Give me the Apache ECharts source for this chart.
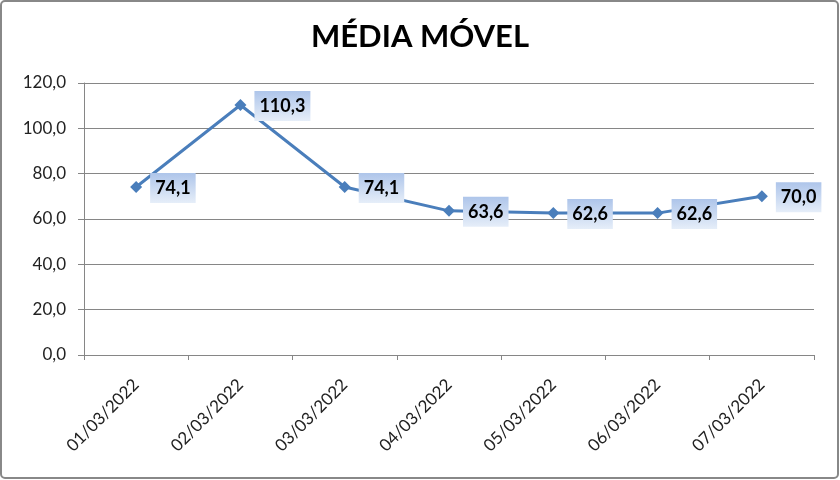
<!DOCTYPE html>
<html><head><meta charset="utf-8">
<script src="https://cdn.jsdelivr.net/npm/echarts@6/dist/echarts.min.js"></script>
<style>html,body{margin:0;padding:0;background:#fff}#c{width:840px;height:480px}</style>
</head><body><div id="c"></div>
<script>
const categories = ['01/03/2022','02/03/2022','03/03/2022','04/03/2022','05/03/2022','06/03/2022','07/03/2022'];
const values = [74.1, 110.3, 74.1, 63.6, 62.6, 62.6, 70.0];
const yTicks = [0, 20, 40, 60, 80, 100, 120];
const title = 'MÉDIA MÓVEL';

const fmt = v => v.toFixed(1).replace('.', ',');
const chart = echarts.init(document.getElementById('c'));
const FONT = 'Lato';
chart.setOption({
  backgroundColor: '#fff',
  animation: false,
  graphic: [{type:'rect', shape:{x:1,y:1,width:837,height:477,r:4}, style:{fill:'none', stroke:'#888', lineWidth:2}, silent:true}],
  title: {text: title, left: 'center', top: 16, textStyle:{fontFamily: FONT, fontWeight:'bold', fontSize:31, color:'#000'}},
  grid: {left: 84, right: 26, top: 83, bottom: 125, containLabel: false},
  xAxis: {
    type:'category', data: categories, boundaryGap: true,
    axisLine:{lineStyle:{color:'#868686'}},
    axisTick:{show:true, length:5, lineStyle:{color:'#868686'}},
    axisLabel:{rotate:45, fontFamily:FONT, fontSize:17, color:'#222', margin:27}
  },
  yAxis: {
    type:'value', min: yTicks[0], max: yTicks[yTicks.length-1], interval: 20,
    axisLine:{show:true, lineStyle:{color:'#868686'}},
    axisTick:{show:true, length:6, lineStyle:{color:'#868686'}},
    splitLine:{lineStyle:{color:'#868686'}},
    axisLabel:{fontFamily:FONT, fontSize:17, color:'#222', margin:18, formatter: v => fmt(v)}
  },
  series: [{
    type:'line', data: values,
    lineStyle:{color:'#4a7ebb', width:3},
    itemStyle:{color:'#4a7ebb'},
    symbol:'diamond', symbolSize:12,
    label:{
      show:true, position:'right', distance:8, offset:[0,1],
      formatter: p => fmt(p.value),
      fontFamily:FONT, fontWeight:'bold', fontSize:18, color:'#000',
      padding:[6,5,6,5],
      backgroundColor: new echarts.graphic.LinearGradient(0,0,0,1,[{offset:0,color:'#aec5ea'},{offset:1,color:'#e6eef9'}])
    }
  }]
});
</script></body></html>
